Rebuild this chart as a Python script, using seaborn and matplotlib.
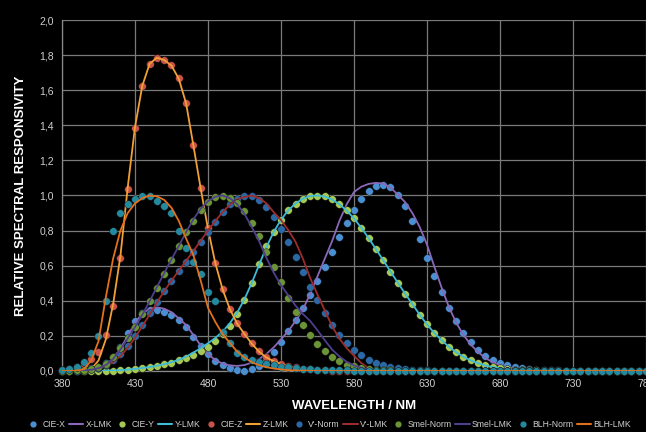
import matplotlib
matplotlib.use('Agg')
import matplotlib.pyplot as plt
import pandas as pd
import seaborn as sns
from matplotlib.lines import Line2D
from matplotlib.ticker import FuncFormatter, MultipleLocator

# wavelength grid of the chart (nm)
wavelength = list(range(380, 785, 5))
x_ticks = [380, 430, 480, 530, 580, 630, 680, 730, 780]

cie_x = [0.0014, 0.0022, 0.0042, 0.0077, 0.0143, 0.0232, 0.0435, 0.0776, 0.1344, 0.2148,
         0.2839, 0.3285, 0.3483, 0.3481, 0.3362, 0.3187, 0.2908, 0.2511, 0.1954, 0.1421,
         0.0956, 0.0580, 0.0320, 0.0147, 0.0049, 0.0024, 0.0093, 0.0291, 0.0633, 0.1096,
         0.1655, 0.2257, 0.2904, 0.3597, 0.4334, 0.5121, 0.5945, 0.6784, 0.7621, 0.8425,
         0.9163, 0.9786, 1.0263, 1.0567, 1.0622, 1.0456, 1.0026, 0.9384, 0.8544, 0.7514,
         0.6424, 0.5419, 0.4479, 0.3608, 0.2835, 0.2187, 0.1649, 0.1212, 0.0874, 0.0636,
         0.0468, 0.0329, 0.0227, 0.0158, 0.0114, 0.0081, 0.0058, 0.0041, 0.0029, 0.0020,
         0.0014, 0.0010, 0.0007, 0.0005, 0.0003, 0.0002, 0.0002, 0.0001, 0.0001, 0.0001,
         0.0000]
x_lmk = [0.000, 0.001, 0.002, 0.004, 0.009, 0.018, 0.038, 0.072, 0.128, 0.200,
         0.275, 0.328, 0.354, 0.363, 0.355, 0.335, 0.300, 0.262, 0.205, 0.145,
         0.097, 0.062, 0.042, 0.032, 0.029, 0.034, 0.048, 0.068, 0.097, 0.135,
         0.180, 0.228, 0.285, 0.350, 0.440, 0.540, 0.640, 0.740, 0.855, 0.950,
         1.020, 1.050, 1.066, 1.072, 1.068, 1.045, 1.005, 0.962, 0.900, 0.820,
         0.720, 0.595, 0.475, 0.365, 0.275, 0.205, 0.150, 0.108, 0.074, 0.050,
         0.034, 0.023, 0.015, 0.009, 0.006, 0.004, 0.002, 0.001, 0.001, 0.000,
         0.000, 0.000, 0.000, 0.000, 0.000, 0.000, 0.000, 0.000, 0.000, 0.000,
         0.000]
cie_y = [0.0000, 0.0001, 0.0001, 0.0002, 0.0004, 0.0006, 0.0012, 0.0022, 0.0040, 0.0073,
         0.0116, 0.0168, 0.0230, 0.0298, 0.0380, 0.0480, 0.0600, 0.0739, 0.0910, 0.1126,
         0.1390, 0.1693, 0.2080, 0.2586, 0.3230, 0.4073, 0.5030, 0.6082, 0.7100, 0.7932,
         0.8620, 0.9149, 0.9540, 0.9803, 0.9950, 1.0000, 0.9950, 0.9786, 0.9520, 0.9154,
         0.8700, 0.8163, 0.7570, 0.6949, 0.6310, 0.5668, 0.5030, 0.4412, 0.3810, 0.3210,
         0.2650, 0.2170, 0.1750, 0.1382, 0.1070, 0.0816, 0.0610, 0.0446, 0.0320, 0.0232,
         0.0170, 0.0119, 0.0082, 0.0057, 0.0041, 0.0029, 0.0021, 0.0015, 0.0010, 0.0007,
         0.0005, 0.0004, 0.0002, 0.0002, 0.0001, 0.0001, 0.0001, 0.0000, 0.0000, 0.0000,
         0.0000]
y_lmk = [0.000, 0.000, 0.000, 0.000, 0.001, 0.001, 0.002, 0.003, 0.005, 0.008,
         0.012, 0.017, 0.023, 0.030, 0.039, 0.050, 0.064, 0.082, 0.105, 0.130,
         0.158, 0.188, 0.225, 0.272, 0.333, 0.410, 0.502, 0.605, 0.706, 0.792,
         0.862, 0.916, 0.955, 0.982, 0.997, 1.000, 0.994, 0.977, 0.950, 0.914,
         0.869, 0.816, 0.757, 0.695, 0.631, 0.567, 0.503, 0.441, 0.381, 0.321,
         0.265, 0.217, 0.175, 0.138, 0.107, 0.081, 0.060, 0.044, 0.031, 0.022,
         0.016, 0.011, 0.007, 0.005, 0.003, 0.002, 0.001, 0.001, 0.000, 0.000,
         0.000, 0.000, 0.000, 0.000, 0.000, 0.000, 0.000, 0.000, 0.000, 0.000,
         0.000]
cie_z = [0.0065, 0.0106, 0.0201, 0.0362, 0.0679, 0.1102, 0.2074, 0.3713, 0.6456, 1.0391,
         1.3856, 1.6230, 1.7471, 1.7826, 1.7721, 1.7441, 1.6692, 1.5281, 1.2876, 1.0419,
         0.8130, 0.6162, 0.4652, 0.3533, 0.2720, 0.2123, 0.1582, 0.1117, 0.0783, 0.0573,
         0.0422, 0.0298, 0.0203, 0.0134, 0.0088, 0.0058, 0.0039, 0.0028, 0.0021, 0.0018,
         0.0017, 0.0014, 0.0011, 0.0010, 0.0008, 0.0006, 0.0003, 0.0002, 0.0002, 0.0001,
         0.0001, 0.0000, 0.0000, 0.0000, 0.0000, 0.0000, 0.0000, 0.0000, 0.0000, 0.0000,
         0.0000, 0.0000, 0.0000, 0.0000, 0.0000, 0.0000, 0.0000, 0.0000, 0.0000, 0.0000,
         0.0000, 0.0000, 0.0000, 0.0000, 0.0000, 0.0000, 0.0000, 0.0000, 0.0000, 0.0000,
         0.0000]
z_lmk = [0.000, 0.000, 0.001, 0.003, 0.010, 0.060, 0.180, 0.380, 0.655, 1.045,
         1.390, 1.625, 1.750, 1.785, 1.772, 1.740, 1.665, 1.525, 1.285, 1.040,
         0.810, 0.615, 0.465, 0.352, 0.270, 0.210, 0.156, 0.110, 0.077, 0.056,
         0.040, 0.028, 0.019, 0.012, 0.008, 0.005, 0.003, 0.002, 0.001, 0.001,
         0.001, 0.000, 0.000, 0.000, 0.000, 0.000, 0.000, 0.000, 0.000, 0.000,
         0.000, 0.000, 0.000, 0.000, 0.000, 0.000, 0.000, 0.000, 0.000, 0.000,
         0.000, 0.000, 0.000, 0.000, 0.000, 0.000, 0.000, 0.000, 0.000, 0.000,
         0.000, 0.000, 0.000, 0.000, 0.000, 0.000, 0.000, 0.000, 0.000, 0.000,
         0.000]
v_norm = [0.0006, 0.0011, 0.0022, 0.0045, 0.0093, 0.0185, 0.0348, 0.0604, 0.0966, 0.1436,
          0.1998, 0.2625, 0.3281, 0.3931, 0.4550, 0.5130, 0.5670, 0.6200, 0.6760, 0.7340,
          0.7930, 0.8510, 0.9040, 0.9490, 0.9820, 0.9980, 0.9970, 0.9750, 0.9350, 0.8800,
          0.8110, 0.7330, 0.6500, 0.5640, 0.4810, 0.4020, 0.3288, 0.2639, 0.2076, 0.1602,
          0.1212, 0.0899, 0.0655, 0.0469, 0.0332, 0.0231, 0.0159, 0.0109, 0.0074, 0.0050,
          0.0033, 0.0022, 0.0015, 0.0010, 0.0007, 0.0005, 0.0003, 0.0002, 0.0001, 0.0001,
          0.0001, 0.0000, 0.0000, 0.0000, 0.0000, 0.0000, 0.0000, 0.0000, 0.0000, 0.0000,
          0.0000, 0.0000, 0.0000, 0.0000, 0.0000, 0.0000, 0.0000, 0.0000, 0.0000, 0.0000,
          0.0000]
v_lmk = [0.000, 0.000, 0.001, 0.002, 0.005, 0.012, 0.026, 0.050, 0.085, 0.132,
         0.190, 0.255, 0.322, 0.390, 0.455, 0.515, 0.572, 0.628, 0.684, 0.742,
         0.800, 0.855, 0.905, 0.948, 0.978, 0.992, 1.000, 0.985, 0.955, 0.905,
         0.860, 0.803, 0.735, 0.640, 0.530, 0.435, 0.345, 0.255, 0.185, 0.130,
         0.087, 0.045, 0.015, 0.004, 0.001, 0.000, 0.000, 0.000, 0.000, 0.000,
         0.000, 0.000, 0.000, 0.000, 0.000, 0.000, 0.000, 0.000, 0.000, 0.000,
         0.000, 0.000, 0.000, 0.000, 0.000, 0.000, 0.000, 0.000, 0.000, 0.000,
         0.000, 0.000, 0.000, 0.000, 0.000, 0.000, 0.000, 0.000, 0.000, 0.000,
         0.000]
smel_norm = [0.001, 0.002, 0.003, 0.006, 0.011, 0.022, 0.042, 0.080, 0.130, 0.190,
             0.252, 0.322, 0.400, 0.475, 0.555, 0.632, 0.712, 0.790, 0.855, 0.920,
             0.965, 0.993, 1.000, 0.988, 0.960, 0.910, 0.845, 0.770, 0.680, 0.590,
             0.505, 0.415, 0.335, 0.262, 0.205, 0.155, 0.115, 0.082, 0.055, 0.037,
             0.027, 0.018, 0.012, 0.008, 0.005, 0.003, 0.002, 0.002, 0.001, 0.001,
             0.001, 0.000, 0.000, 0.000, 0.000, 0.000, 0.000, 0.000, 0.000, 0.000,
             0.000, 0.000, 0.000, 0.000, 0.000, 0.000, 0.000, 0.000, 0.000, 0.000,
             0.000, 0.000, 0.000, 0.000, 0.000, 0.000, 0.000, 0.000, 0.000, 0.000,
             0.000]
smel_lmk = [0.000, 0.000, 0.001, 0.003, 0.007, 0.016, 0.034, 0.068, 0.122, 0.185,
            0.250, 0.320, 0.398, 0.478, 0.558, 0.636, 0.712, 0.792, 0.865, 0.925,
            0.968, 0.993, 1.000, 0.985, 0.950, 0.895, 0.820, 0.740, 0.645, 0.560,
            0.490, 0.430, 0.372, 0.325, 0.285, 0.232, 0.175, 0.122, 0.083, 0.052,
            0.032, 0.018, 0.008, 0.003, 0.001, 0.000, 0.000, 0.000, 0.000, 0.000,
            0.000, 0.000, 0.000, 0.000, 0.000, 0.000, 0.000, 0.000, 0.000, 0.000,
            0.000, 0.000, 0.000, 0.000, 0.000, 0.000, 0.000, 0.000, 0.000, 0.000,
            0.000, 0.000, 0.000, 0.000, 0.000, 0.000, 0.000, 0.000, 0.000, 0.000,
            0.000]
blh_norm = [0.006, 0.012, 0.025, 0.050, 0.100, 0.200, 0.400, 0.800, 0.900, 0.950,
            0.980, 1.000, 1.000, 0.970, 0.940, 0.900, 0.800, 0.700, 0.620, 0.550,
            0.450, 0.400, 0.220, 0.160, 0.100, 0.079, 0.063, 0.050, 0.040, 0.032,
            0.025, 0.020, 0.016, 0.013, 0.010, 0.008, 0.006, 0.005, 0.004, 0.003,
            0.002, 0.002, 0.001, 0.001, 0.001, 0.001, 0.001, 0.001, 0.001, 0.001,
            0.001, 0.001, 0.001, 0.001, 0.001, 0.001, 0.001, 0.001, 0.001, 0.001,
            0.001, 0.001, 0.001, 0.001, 0.001, 0.001, 0.001, 0.001, 0.001, 0.001,
            0.001, 0.001, 0.001, 0.001, 0.001, 0.001, 0.001, 0.001, 0.001, 0.001,
            0.001]
blh_lmk = [0.000, 0.000, 0.003, 0.010, 0.060, 0.170, 0.420, 0.640, 0.800, 0.900,
           0.955, 0.985, 1.000, 0.995, 0.975, 0.930, 0.855, 0.755, 0.660, 0.515,
           0.360, 0.280, 0.210, 0.160, 0.110, 0.077, 0.050, 0.033, 0.022, 0.014,
           0.009, 0.005, 0.003, 0.002, 0.001, 0.000, 0.000, 0.000, 0.000, 0.000,
           0.000, 0.000, 0.000, 0.000, 0.000, 0.000, 0.000, 0.000, 0.000, 0.000,
           0.000, 0.000, 0.000, 0.000, 0.000, 0.000, 0.000, 0.000, 0.000, 0.000,
           0.000, 0.000, 0.000, 0.000, 0.000, 0.000, 0.000, 0.000, 0.000, 0.000,
           0.000, 0.000, 0.000, 0.000, 0.000, 0.000, 0.000, 0.000, 0.000, 0.000,
           0.000]

series_names = ['CIE-X', 'X-LMK', 'CIE-Y', 'Y-LMK', 'CIE-Z', 'Z-LMK',
                "V'-Norm", "V'-LMK", 'Smel-Norm', 'Smel-LMK', 'BLH-Norm', 'BLH-LMK']
series_values = [cie_x, x_lmk, cie_y, y_lmk, cie_z, z_lmk,
                 v_norm, v_lmk, smel_norm, smel_lmk, blh_norm, blh_lmk]
series_kind = ['dots', 'line'] * 6
series_colors = ['#4a8fd2', '#8a68b8', '#a6c955', '#3cbcd8', '#c9524a', '#f2a035',
                 '#2a68a6', '#9e2c2c', '#6a9436', '#4e3f8c', '#24889e', '#e2711d']

df = pd.DataFrame({'wavelength': wavelength})
for name, vals in zip(series_names, series_values):
    df[name] = vals

sns.set_theme(style='dark')
plt.rcParams['font.family'] = ['Liberation Sans', 'DejaVu Sans']

fig = plt.figure(figsize=(6.46, 4.32), dpi=100, facecolor='black')
ax = fig.add_axes([62 / 646, 61 / 432, 584 / 646, 351 / 432])
ax.set_facecolor('black')

handles = []
for name, kind, color in zip(series_names, series_kind, series_colors):
    if kind == 'line':
        sns.lineplot(data=df, x='wavelength', y=name, color=color, linewidth=1.3, ax=ax, zorder=3)
        handles.append(Line2D([], [], color=color, linewidth=1.5))
    else:
        sns.scatterplot(data=df, x='wavelength', y=name, color=color, s=30,
                        edgecolor='#101010', linewidth=0.3, ax=ax, zorder=3, clip_on=False)
        handles.append(Line2D([], [], color=color, marker='o', linestyle='',
                              markersize=4.5, markeredgewidth=0))

ax.set_xlim(380, 780)
ax.set_ylim(0, 2.0)
ax.set_xticks(x_ticks)
ax.yaxis.set_major_locator(MultipleLocator(0.2))
ax.yaxis.set_major_formatter(FuncFormatter(lambda v, p: f'{v:.1f}'.replace('.', ',')))
ax.grid(True, color='#7a7a7a', linewidth=0.9)
ax.set_axisbelow(True)
for side in ['top', 'right']:
    ax.spines[side].set_visible(False)
for side in ['left', 'bottom']:
    ax.spines[side].set_color('#8a8a8a')
    ax.spines[side].set_linewidth(0.9)
ax.tick_params(axis='both', colors='#d0d0d0', labelsize=7.5, length=3, width=0.8,
               direction='out', pad=3)
ax.tick_params(axis='both', color='#8a8a8a')

ax.set_xlabel('WAVELENGTH / NM', color='white', fontsize=9.5, fontweight='bold', labelpad=8)
ax.set_ylabel('RELATIVE SPECTRAL RESPONSIVITY', color='white', fontsize=9.5,
              fontweight='bold', labelpad=9)

fig.legend(handles, series_names, ncol=12, loc='lower left', bbox_to_anchor=(0.032, -0.005),
           frameon=False, fontsize=6.2, labelcolor='#d0d0d0', handlelength=1.7,
           handletextpad=0.25, columnspacing=0.36, borderaxespad=0.2)

fig.savefig('out.png', dpi=100, facecolor='black')
